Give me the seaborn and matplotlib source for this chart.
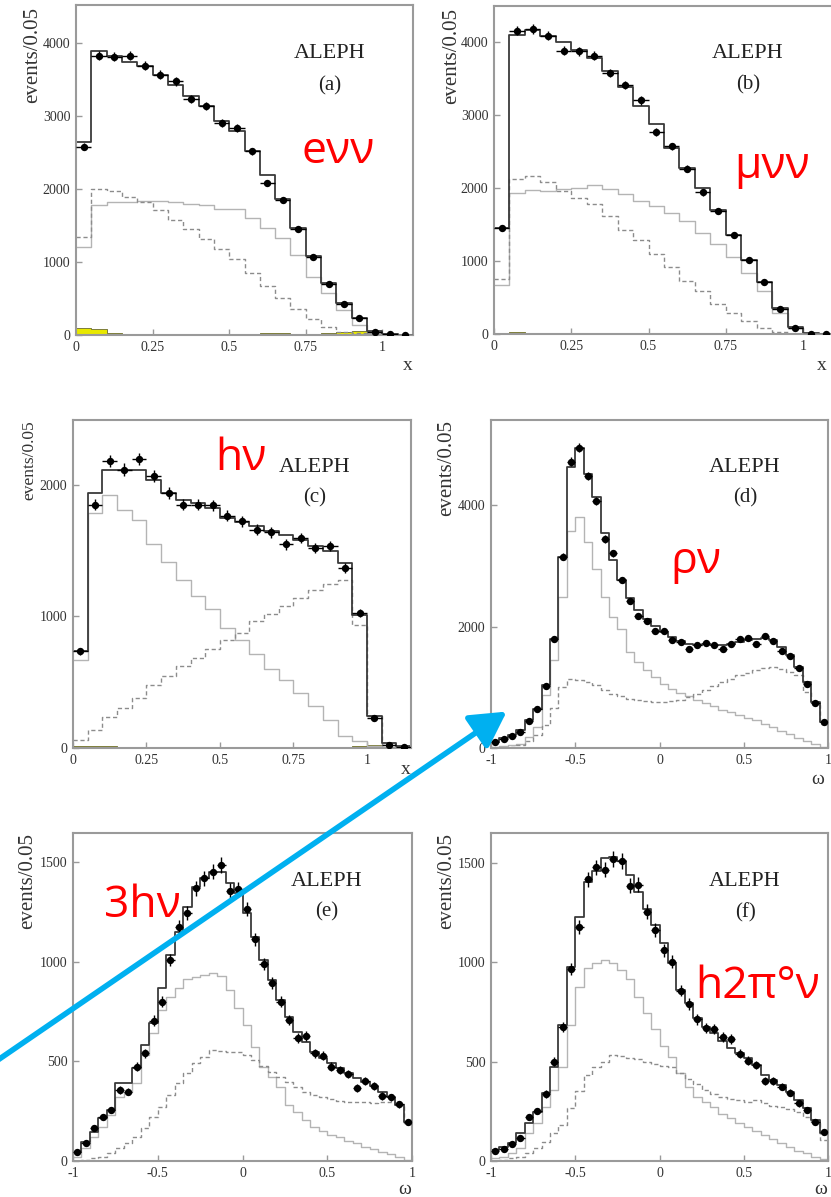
import numpy as np
import pandas as pd
import matplotlib
matplotlib.use("Agg")
import matplotlib.pyplot as plt
import seaborn as sns
from matplotlib.patches import FancyArrowPatch

# ---- data (events per 0.05 bin) ----
# (a) e nu nu, x in [0, 1.1]
a_data = [2580, 3826, 3808, 3826, 3689, 3565, 3474, 3232, 3140, 2903, 2834, 2514, 2080, 1851, 1449, 1065, 699, 425, 229, 46, 9, 5]
a_total = [2650, 3885, 3826, 3735, 3680, 3565, 3428, 3268, 3131, 2925, 2797, 2514, 2194, 1860, 1463, 1083, 717, 443, 229, 60, 14, 5]
a_dash = [1349, 1998, 1966, 1897, 1828, 1714, 1577, 1449, 1312, 1175, 1037, 846, 672, 503, 352, 215, 114, 46, 23, 5, 0, 0]
a_solid = [1202, 1783, 1828, 1815, 1842, 1838, 1828, 1796, 1774, 1728, 1723, 1600, 1463, 1326, 1097, 800, 571, 343, 137, 32, 9, 0]
a_bkg = [95, 88, 25, 20, 5, 5, 5, 5, 15, 5, 20, 20, 30, 30, 20, 10, 30, 40, 50, 25, 0, 0]

# (b) mu nu nu
b_data = [1454, 4160, 4183, 4091, 3886, 3876, 3817, 3579, 3419, 3204, 2775, 2573, 2267, 1943, 1691, 1362, 1019, 709, 343, 82, 5, 3]
b_total = [1454, 4105, 4173, 4091, 4000, 3899, 3785, 3602, 3387, 3122, 2884, 2551, 2276, 1998, 1705, 1362, 1019, 709, 357, 91, 14, 3]
b_dash = [754, 2125, 2162, 2080, 1956, 1865, 1787, 1623, 1431, 1284, 1102, 919, 731, 585, 416, 288, 174, 82, 23, 5, 0, 0]
b_solid = [677, 1934, 1979, 1956, 1988, 2002, 2043, 1988, 1920, 1828, 1751, 1659, 1545, 1385, 1239, 1056, 836, 585, 288, 82, 14, 0]
b_bkg = [0, 25, 20, 5, 3, 3, 3, 3, 3, 3, 3, 3, 3, 3, 3, 5, 10, 15, 15, 10, 0, 0]

# (c) h nu, x in [0, 1.15]
c_data = [734, 1848, 2177, 2114, 2195, 2064, 1937, 1848, 1846, 1841, 1765, 1722, 1658, 1638, 1545, 1595, 1519, 1532, 1367, 1025, 228, 25, 8]
c_total = [734, 1937, 2114, 2114, 2114, 2038, 1937, 1881, 1861, 1823, 1747, 1714, 1684, 1646, 1620, 1582, 1532, 1494, 1405, 1013, 246, 38, 13]
c_solid = [671, 1785, 1917, 1805, 1734, 1545, 1410, 1279, 1152, 1056, 912, 818, 714, 600, 519, 418, 317, 215, 89, 51, 13, 0, 0]
c_dash = [58, 139, 235, 304, 380, 481, 549, 620, 684, 752, 823, 874, 962, 1018, 1076, 1139, 1203, 1248, 1279, 937, 240, 25, 5]
c_bkg = [15, 15, 12, 5, 3, 3, 3, 3, 3, 3, 3, 3, 3, 3, 3, 3, 3, 3, 5, 15, 20, 10, 0]

# (d) rho nu, omega in [-1, 1]
d_data = [99, 154, 192, 264, 445, 648, 1017, 1802, 3149, 4715, 4946, 4484, 4072, 3440, 3204, 2764, 2423, 2171, 2094, 1929,
          1929, 1786, 1747, 1638, 1692, 1736, 1703, 1638, 1720, 1802, 1813, 1720, 1841, 1764, 1599, 1511, 1324, 1061, 742, 429]
d_total = [99, 170, 209, 291, 456, 648, 1033, 1802, 3149, 4621, 4946, 4511, 4127, 3533, 3094, 2764, 2462, 2269, 2132, 2006,
           1912, 1830, 1758, 1720, 1703, 1709, 1703, 1692, 1720, 1747, 1775, 1802, 1819, 1775, 1665, 1528, 1335, 1088, 758, 429]
d_solid = [16, 27, 44, 71, 181, 346, 868, 1445, 2478, 3577, 3797, 3396, 2940, 2489, 2160, 1951, 1583, 1418, 1280, 1170,
           1061, 978, 907, 852, 797, 742, 687, 632, 594, 550, 500, 456, 401, 346, 280, 225, 170, 115, 60, 16]
d_dash = [0, 5, 16, 44, 115, 209, 374, 665, 1006, 1143, 1126, 1088, 1033, 962, 896, 852, 813, 797, 775, 758,
          758, 775, 797, 841, 896, 962, 1017, 1088, 1143, 1198, 1236, 1280, 1324, 1335, 1308, 1253, 1198, 923, 703, 400]

# (e) 3h nu
e_data = [43, 92, 167, 222, 256, 356, 348, 473, 540, 704, 799, 1008, 1172, 1242, 1368, 1418, 1451, 1485, 1356, 1364,
          1262, 1112, 988, 895, 799, 707, 615, 629, 540, 528, 473, 456, 436, 365, 403, 376, 326, 319, 284, 197]
e_total = [47, 97, 147, 214, 256, 390, 390, 465, 582, 690, 866, 1033, 1150, 1276, 1376, 1418, 1451, 1451, 1393, 1343,
           1242, 1125, 1008, 908, 808, 724, 649, 599, 548, 515, 490, 465, 440, 415, 398, 376, 348, 323, 281, 197]
e_solid = [22, 64, 122, 172, 231, 323, 348, 390, 532, 640, 757, 824, 866, 911, 925, 933, 945, 928, 858, 766,
           682, 574, 473, 423, 373, 281, 247, 206, 172, 152, 130, 119, 102, 89, 72, 59, 47, 35, 18, 5]
e_dash = [0, 5, 13, 22, 38, 64, 89, 122, 164, 222, 273, 331, 390, 440, 490, 523, 557, 553, 548, 548,
          532, 507, 477, 448, 420, 398, 373, 348, 331, 319, 309, 303, 298, 298, 298, 293, 298, 298, 281, 189]

# (f) h 2pi0 nu
f_data = [52, 59, 86, 114, 220, 253, 337, 500, 673, 967, 1176, 1418, 1477, 1465, 1519, 1510, 1384, 1389, 1255, 1163,
          1059, 1003, 857, 790, 713, 668, 664, 626, 612, 539, 505, 483, 404, 403, 374, 344, 290, 257, 198, 144]
f_total = [55, 69, 89, 139, 190, 248, 341, 475, 685, 978, 1227, 1401, 1457, 1524, 1527, 1507, 1440, 1351, 1267, 1188,
           1096, 995, 861, 794, 718, 676, 643, 606, 567, 542, 517, 483, 433, 408, 383, 349, 307, 265, 206, 139]
f_solid = [13, 22, 39, 64, 139, 190, 274, 357, 475, 685, 874, 970, 998, 1012, 998, 961, 915, 827, 743, 663,
           576, 522, 441, 374, 324, 299, 274, 237, 215, 190, 169, 153, 131, 109, 89, 69, 52, 39, 22, 8]
f_dash = [0, 5, 13, 22, 39, 64, 97, 139, 181, 265, 354, 433, 475, 500, 534, 529, 517, 512, 500, 488,
          478, 475, 441, 411, 388, 357, 337, 320, 310, 307, 299, 307, 290, 277, 270, 260, 248, 223, 190, 106]

x_ticks = [0, 0.25, 0.5, 0.75, 1]
x_labels = ["0", "0.25", "0.5", "0.75", "1"]
w_ticks = [-1, -0.5, 0, 0.5, 1]
w_labels = ["-1", "-0.5", "0", "0.5", "1"]

sns.set_theme(style="white")
plt.rcParams["font.family"] = ["Liberation Serif", "DejaVu Serif"]

W, H = 831, 1197
fig = plt.figure(figsize=(W / 100, H / 100), dpi=100)


def add_ax(left, top, right, bottom):
    return fig.add_axes([left / W, 1 - bottom / H, (right - left) / W, (bottom - top) / H])


def step(ax, df, col, edges, **kw):
    # bins as a plain list: seaborn compares bins to "auto" when weights are used
    sns.histplot(data=df, x="x", weights=col, bins=list(edges), element="step", ax=ax, **kw)


def panel(ax, lo, data, total, solid, dash, bkg, xlim, ymax, xt, xl, yt):
    n = len(data)
    edges = lo + 0.05 * np.arange(n + 1)
    centers = edges[:-1] + 0.025
    df = pd.DataFrame({"x": centers, "data": data, "total": total, "solid": solid, "dash": dash})
    if bkg is not None:
        df["bkg"] = bkg
        step(ax, df, "bkg", edges, fill=True, color="#e8e800", alpha=1,
             edgecolor="#6a6a30", linewidth=0.6)
    step(ax, df, "solid", edges, fill=False, color="#b4b4b4", linewidth=1.0)
    step(ax, df, "dash", edges, fill=False, color="#8c8c8c", linewidth=1.0, linestyle=(0, (3, 2)))
    step(ax, df, "total", edges, fill=False, color="#3a3a3a", linewidth=1.3)
    ax.errorbar(df["x"], df["data"], xerr=0.025, yerr=np.sqrt(df["data"]), fmt="none",
                ecolor="black", elinewidth=1.0, capsize=0, zorder=4)
    sns.scatterplot(data=df, x="x", y="data", color="black", s=28, linewidth=0, ax=ax, zorder=5)
    ax.set_xlim(*xlim)
    ax.set_ylim(0, ymax)
    ax.set_xticks(xt)
    ax.set_xticklabels(xl)
    ax.set_yticks(yt)
    ax.set_yticklabels([str(v) for v in yt])
    ax.set_xlabel("")
    ax.set_ylabel("")
    for s in ax.spines.values():
        s.set_color("#9a9a9a")
        s.set_linewidth(1.5)
    ax.tick_params(direction="in", length=4, width=1, colors="#9a9a9a",
                   labelcolor="#333333", labelsize=10, pad=4,
                   bottom=True, left=True, top=False, right=False)


ax_a = add_ax(76, 5, 413, 335)
panel(ax_a, 0.0, a_data, a_total, a_solid, a_dash, a_bkg, (0, 1.1), 4520, x_ticks, x_labels, [0, 1000, 2000, 3000, 4000])
ax_b = add_ax(494, 6, 834, 334)
panel(ax_b, 0.0, b_data, b_total, b_solid, b_dash, b_bkg, (0, 1.1), 4500, x_ticks, x_labels, [0, 1000, 2000, 3000, 4000])
ax_c = add_ax(73, 420, 411, 748)
panel(ax_c, 0.0, c_data, c_total, c_solid, c_dash, c_bkg, (0, 1.15), 2490, x_ticks, x_labels, [0, 1000, 2000])
ax_d = add_ax(491, 420, 828, 748)
panel(ax_d, -1.0, d_data, d_total, d_solid, d_dash, None, (-1, 1), 5400, w_ticks, w_labels, [0, 2000, 4000])
ax_e = add_ax(73, 833, 412, 1161)
panel(ax_e, -1.0, e_data, e_total, e_solid, e_dash, None, (-1, 1), 1645, w_ticks, w_labels, [0, 500, 1000, 1500])
ax_f = add_ax(491, 833, 828, 1161)
panel(ax_f, -1.0, f_data, f_total, f_solid, f_dash, None, (-1, 1), 1650, w_ticks, w_labels, [0, 500, 1000, 1500])


def ftext(x, y, s, **kw):
    fig.text(x / W, 1 - y / H, s, **kw)


# y axis titles (top aligned, ROOT style)
for cx, top, fs in [(33, 7, 15), (452, 8, 15), (29, 420, 12.5), (447, 420, 15), (28, 833, 15), (447, 833, 15)]:
    ftext(cx, top, "events/0.05", rotation=90, ha="center", va="top", fontsize=fs, color="#333333")

# x axis titles
for cx, cy, s in [(408, 365, "x"), (822, 365, "x"), (406, 770, "x"),
                  (818, 779, "ω"), (405, 1189, "ω"), (821, 1189, "ω")]:
    ftext(cx, cy, s, ha="center", va="center", fontsize=14, color="#333333")

# experiment label and panel letter
for cx, y1, y2, lab in [(330, 54, 86, "(a)"), (748, 53, 85, "(b)"), (315, 468, 498, "(c)"),
                        (745, 468, 498, "(d)"), (327, 881, 912, "(e)"), (745, 881, 913, "(f)")]:
    ftext(cx, y1, "ALEPH", ha="center", va="center", fontsize=16, color="#222222")
    ftext(cx, y2, lab, ha="center", va="center", fontsize=15, color="#222222")

# channel names in red
red_font = ["Open Sans", "DejaVu Sans"]
for cx, base, s in [(338, 163, "eνν"), (772, 178, "μνν"), (241, 470, "hν"),
                    (696, 573, "ρν"), (142, 917, "3hν"), (758, 998, "h2π°ν")]:
    ftext(cx, base, s, ha="center", va="baseline", fontsize=32, color="red", family=red_font)

# blue arrow
arrow = FancyArrowPatch((-5 / W, 1 - 1062 / H), (509 / W, 1 - 710 / H), transform=fig.transFigure,
                        arrowstyle="-|>,head_length=0.9,head_width=0.5", mutation_scale=24,
                        linewidth=4, color="#00b0f0", zorder=10)
fig.add_artist(arrow)

fig.savefig("out.png", dpi=100)
